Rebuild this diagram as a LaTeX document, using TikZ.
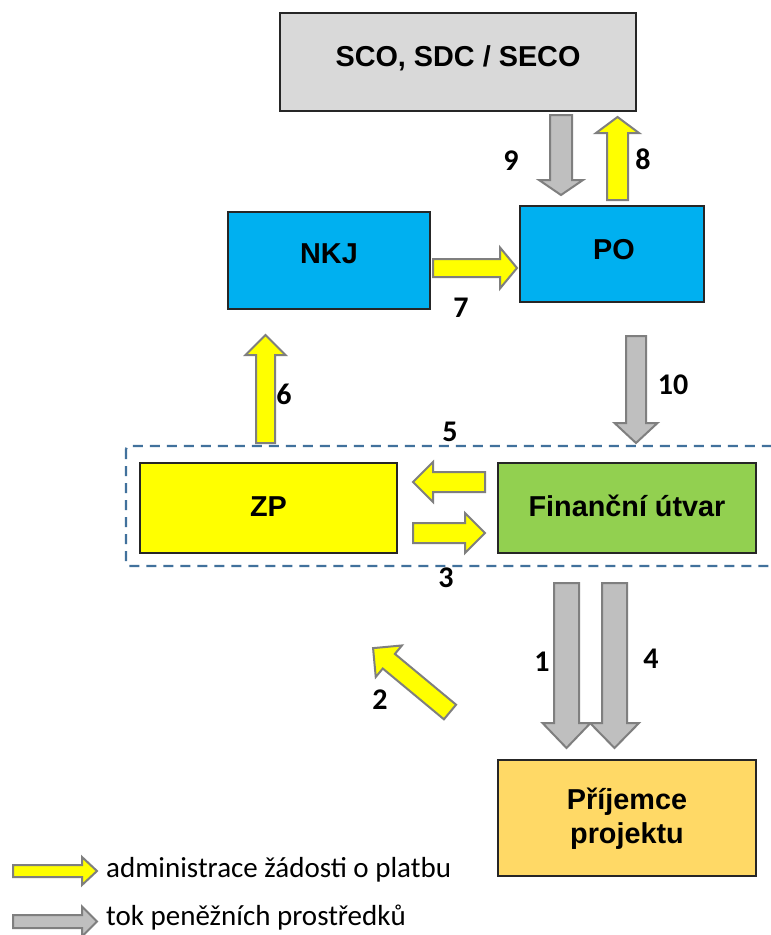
\documentclass[tikz,border=0pt]{standalone}
\usepackage{fontspec}
\setmainfont{Liberation Sans}
\newfontfamily\numfont{Carlito}
\definecolor{boxgray}{HTML}{D9D9D9}
\definecolor{poblue}{HTML}{00B0F0}
\definecolor{fingreen}{HTML}{92D050}
\definecolor{prijgold}{HTML}{FFD966}
\definecolor{zpyellow}{HTML}{FFFF00}
\definecolor{arrfill}{HTML}{BFBFBF}
\definecolor{arredge}{HTML}{7F7F7F}
\definecolor{dashblue}{HTML}{41719C}
\tikzset{
  box/.style={draw=black!85, line width=1.2pt, inner sep=0pt},
  boxtext/.style={font=\fontsize{28.8}{34}\selectfont\bfseries, align=center, inner sep=0pt},
  numlabel/.style={font=\numfont\fontsize{30}{30}\selectfont\bfseries, inner sep=0pt},
  legtext/.style={font=\numfont\fontsize{29}{32}\selectfont, inner sep=0pt, anchor=west},
}
% block arrow: #1 fill, #2 tail point, #3 angle, #4 length, #5 shaft half width, #6 head half width, #7 head length
\newcommand{\blockarrow}[7]{%
  \begin{scope}[shift={#2}, rotate=#3]
    \filldraw[fill=#1, draw=arredge, line width=2pt, line join=miter]
      (0,-#5) -- ({#4-#7},-#5) -- ({#4-#7},-#6) -- (#4,0) -- ({#4-#7},#6) -- ({#4-#7},#5) -- (0,#5) -- cycle;
  \end{scope}}
\begin{document}
\begin{tikzpicture}[x=1pt,y=-1pt]
\clip (0,0) rectangle (771,935);
\fill[white] (0,0) rectangle (771,935);

% dashed group
\draw[dashblue, line width=2.4pt, dash pattern=on 10pt off 7pt, rounded corners=3pt]
  (126,446) rectangle (800,566);

% boxes
\node[box, fill=boxgray, minimum width=356pt, minimum height=98pt] (sco) at (458,62) {};
\node[boxtext] (scot) at (458,58) {SCO, SDC / SECO};
\node[box, fill=poblue, minimum width=184pt, minimum height=96pt] (po) at (612,254) {};
\node[boxtext] (pot) at (614,250) {PO};
\node[box, fill=poblue, minimum width=202pt, minimum height=97pt] (nkj) at (329,260.5) {};
\node[boxtext] (nkjt) at (329,254) {NKJ};
\node[box, fill=zpyellow, minimum width=257pt, minimum height=90pt] (zp) at (268.5,508) {};
\node[boxtext] (zpt) at (268.5,507) {ZP};
\node[box, fill=fingreen, minimum width=258pt, minimum height=90pt] (fin) at (627,508) {};
\node[boxtext] (fint) at (627,506) {Finanční útvar};
\node[box, fill=prijgold, minimum width=258pt, minimum height=116pt] (prij) at (627,818) {};
\node[boxtext] (prijt) at (627,819) {Příjemce\\projektu};

% arrows
\blockarrow{arrfill}{(561,115)}{-90}{80}{11}{22}{15}      % 9
\blockarrow{zpyellow}{(617.5,200)}{90}{83}{10.5}{21.5}{16} % 8
\blockarrow{zpyellow}{(433,268)}{0}{84}{9}{20.5}{17}       % 7
\blockarrow{zpyellow}{(265.5,443)}{90}{108}{9.5}{20}{20}   % 6
\blockarrow{arrfill}{(636,336)}{-90}{107}{10}{21.5}{20}    % 10
\blockarrow{zpyellow}{(485,482)}{180}{72}{10}{20}{20}      % 5
\blockarrow{zpyellow}{(413,533)}{0}{72}{10}{20}{20}        % 3
\blockarrow{arrfill}{(566.5,583)}{-90}{165}{12.5}{24}{25}  % 1
\blockarrow{arrfill}{(614.5,583)}{-90}{165}{12.5}{24.5}{25}% 4
\blockarrow{zpyellow}{(450,712)}{140.3}{100}{9.5}{20.5}{20.5} % 2

% number labels
\node[numlabel] (n9) at (511,161) {9};
\node[numlabel] (n8) at (643,159) {8};
\node[numlabel] (n7) at (461,308) {7};
\node[numlabel] (n6) at (284,394) {6};
\node[numlabel] (n10) at (673,385) {10};
\node[numlabel] (n5) at (450,432) {5};
\node[numlabel] (n3) at (446,578) {3};
\node[numlabel] (n1) at (542,662) {1};
\node[numlabel] (n4) at (651,659) {4};
\node[numlabel] (n2) at (380,700) {2};

% legend
\blockarrow{zpyellow}{(13,871)}{0}{84}{6}{14}{15}
\blockarrow{arrfill}{(13,921.5)}{0}{84}{6.5}{15}{15}
\node[legtext] (leg1) at (106,870) {administrace žádosti o platbu};
\node[legtext] (leg2) at (106,918) {tok peněžních prostředků};
\end{tikzpicture}
\end{document}
